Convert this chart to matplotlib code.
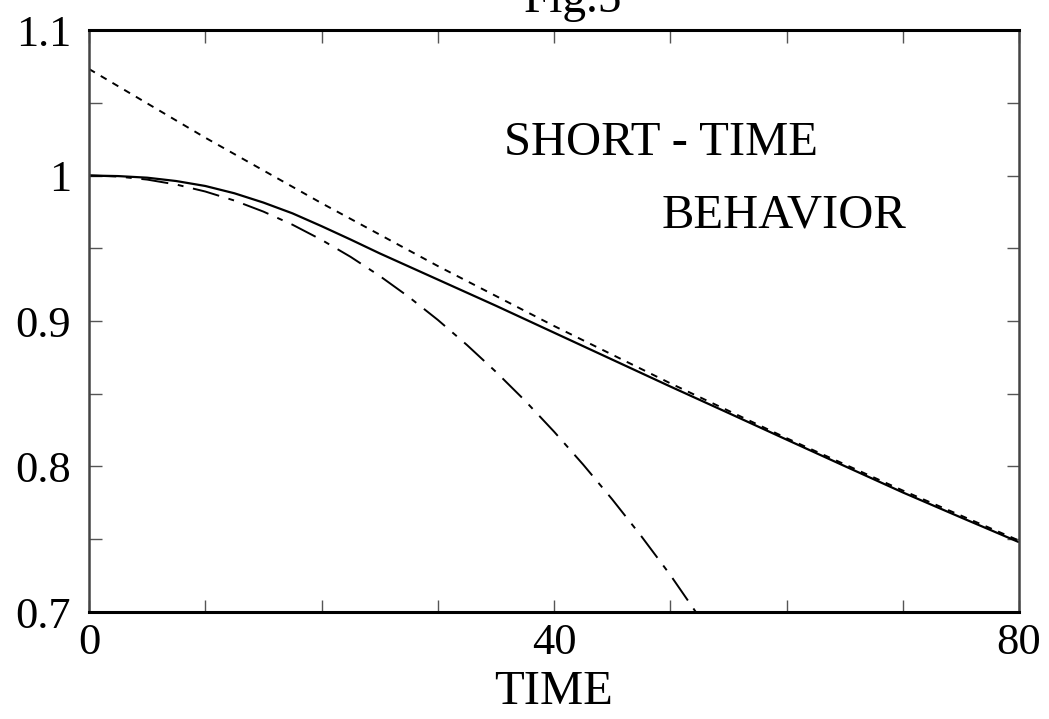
import matplotlib
matplotlib.use("Agg")
import matplotlib.pyplot as plt
from matplotlib.ticker import MultipleLocator

plt.rcParams['font.family'] = ['Liberation Serif', 'DejaVu Serif']

# Data
t_full = [0, 2.5, 5, 7.5, 10, 12.5, 15, 17.5, 20, 22.5, 25, 30, 35, 40, 45,
          50, 55, 60, 65, 70, 75, 80]
exact = [1.0, 0.9996, 0.9985, 0.9962, 0.9928, 0.9878, 0.9814, 0.9740, 0.9652,
         0.9560, 0.9465, 0.9285, 0.9105, 0.8920, 0.8735, 0.8550, 0.8368,
         0.8185, 0.8003, 0.7822, 0.7650, 0.7480]
t_asym = [0, 10, 20, 30, 40, 50, 60, 70, 80]
asymptotic = [1.0732, 1.0260, 0.9810, 0.9378, 0.8966, 0.8572, 0.8195,
              0.7835, 0.7491]
t_short = [0, 2.5, 5, 7.5, 10, 12.5, 15, 17.5, 20, 22.5, 25, 27.5, 30, 32.5,
           35, 37.5, 40, 42.5, 45, 47.5, 50, 52.2]
short_time = [1.0, 0.9993, 0.9972, 0.9938, 0.9890, 0.9828, 0.9752, 0.9662,
              0.9558, 0.9441, 0.9310, 0.9166, 0.9008, 0.8836, 0.8651, 0.8453,
              0.8240, 0.8014, 0.7775, 0.7522, 0.7255, 0.7000]

x_ticks = [0, 40, 80]
y_ticks = [0.7, 0.8, 0.9, 1.0, 1.1]
y_ticklabels = ["0.7", "0.8", "0.9", "1", "1.1"]

fig = plt.figure(figsize=(10.49, 7.19), dpi=100)
ax = fig.add_axes([89/1049, 107/719, 930/1049, 582/719])

ax.plot(t_full, exact, color='black', lw=1.6, solid_capstyle='butt',
        solid_joinstyle='round')
ax.plot(t_asym, asymptotic, color='black', lw=1.4, linestyle=(0, (3.5, 3.5)))
ax.plot(t_short, short_time, color='black', lw=1.4,
        linestyle=(0, (14, 5, 3, 5)))

ax.set_xlim(0, 80)
ax.set_ylim(0.7, 1.1)
ax.set_xticks(x_ticks)
ax.set_xticklabels([str(v) for v in x_ticks])
ax.xaxis.set_minor_locator(MultipleLocator(10))
ax.set_yticks(y_ticks)
ax.set_yticklabels(y_ticklabels)
ax.yaxis.set_minor_locator(MultipleLocator(0.05))

ax.tick_params(which='both', direction='in', top=True, right=True,
               length=9, width=1.0, color='#555555')
ax.tick_params(axis='x', which='major', labelsize=32, pad=8)
ax.tick_params(axis='y', which='major', labelsize=32, pad=13)

for side in ['top', 'bottom']:
    ax.spines[side].set_linewidth(2.2)
    ax.spines[side].set_color('black')
for side in ['left', 'right']:
    ax.spines[side].set_linewidth(1.8)
    ax.spines[side].set_color('#444444')

ax.set_xlabel("TIME", fontsize=35)
ax.xaxis.set_label_coords(0.5, (612 - 692) / 582)
ax.xaxis.label.set_va('center')

fig.text(573 / 1049, 1 - 12 / 719, "Fig.5", fontsize=34, ha='center',
         va='baseline')

ax.text(0.615, 0.806, "SHORT - TIME", transform=ax.transAxes, fontsize=35,
        ha='center', va='center')
ax.text(0.747, 0.682, "BEHAVIOR", transform=ax.transAxes, fontsize=35,
        ha='center', va='center')

fig.savefig("out.png", dpi=100)
